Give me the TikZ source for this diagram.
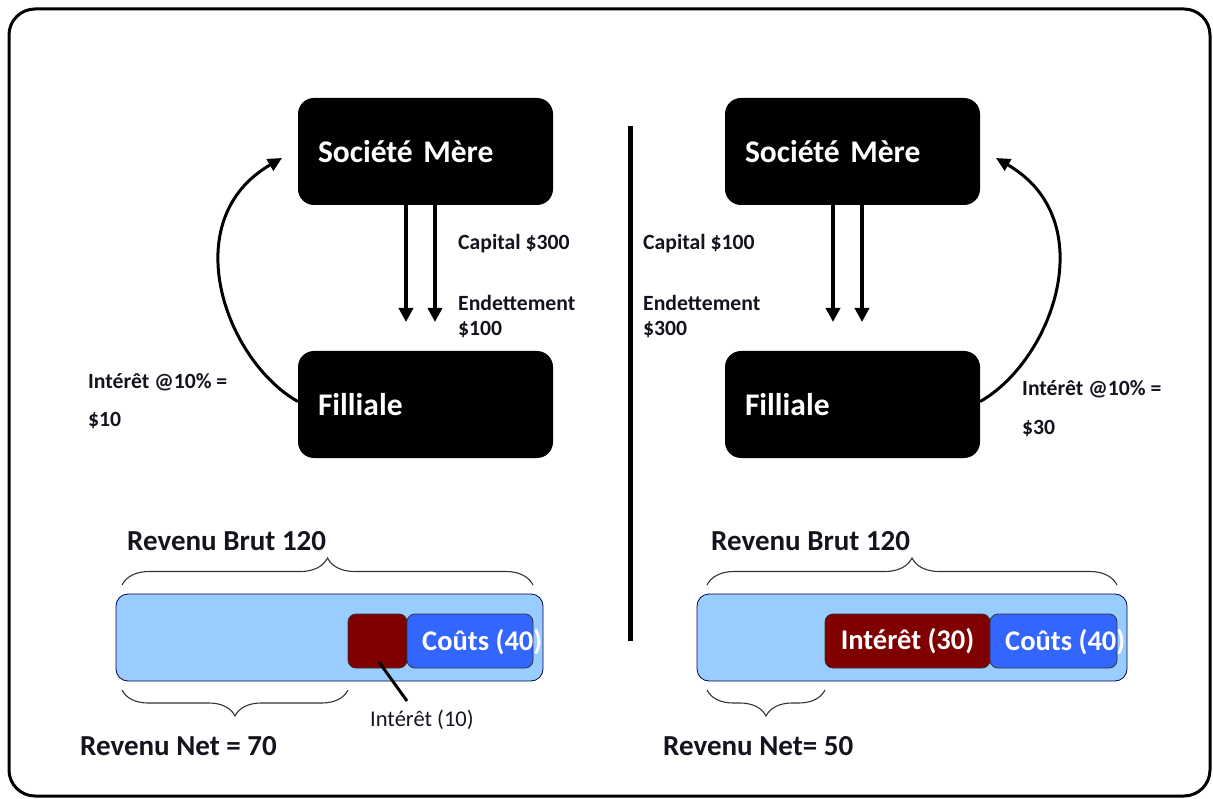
\documentclass[tikz,border=0pt]{standalone}
\usepackage{fontspec}
\setmainfont{Carlito}
\usetikzlibrary{arrows.meta,decorations.pathreplacing,calc}
\definecolor{lightbar}{RGB}{153,204,255}
\definecolor{costblue}{RGB}{51,102,255}
\definecolor{intred}{RGB}{128,0,0}
\definecolor{txt}{RGB}{20,20,30}
\tikzset{
  blk/.style={fill=black, rounded corners=16pt, minimum width=255pt, minimum height=107pt,
    text width=215pt, align=left, inner xsep=20pt, text=white, font=\bfseries\fontsize{31.5}{36}\selectfont},
  lbl/.style={anchor=west, inner sep=0pt, text=txt, font=\bfseries\fontsize{21.7}{25}\selectfont},
  big/.style={anchor=west, inner sep=0pt, text=txt, font=\bfseries\fontsize{29}{33}\selectfont},
  downarr/.style={line width=3.5pt, -{Triangle[width=14pt,length=14pt]}},
  curvearr/.style={line width=3pt, -{Triangle[width=13pt,length=14pt]}},
  bar/.style={fill=lightbar, draw=black!70!blue, line width=0.8pt, rounded corners=12pt, minimum width=#1, minimum height=87pt, inner sep=0pt},
  seg/.style={draw=black!80, line width=0.8pt, rounded corners=8pt, minimum height=54pt, inner sep=0pt},
  brc/.style={draw=black!80, line width=1.1pt, decorate, decoration={brace, amplitude=#1}},
  intxt/.style={text=white, font=\bfseries\fontsize{28.5}{32}\selectfont, inner sep=0pt}
}
\begin{document}
\begin{tikzpicture}[x=1pt,y=-1pt]
\useasboundingbox (0,0) rectangle (1213,799);
\draw[line width=3pt, rounded corners=26pt] (9,9) rectangle (1210,796);

% left side
\node[blk] (sm1) at (425.5,151.5) {Société Mère};
\node[blk] (fi1) at (425.5,404.5) {Filliale};
\coordinate (a1) at (406,322);
\coordinate (a2) at (435,322);
\draw[downarr] (sm1.south -| a1) -- (a1);
\draw[downarr] (sm1.south -| a2) -- (a2);
\node[lbl] (cap1) at (458,244) {Capital \$300};
\node[lbl] (end1) at (458,303) {Endettement};
\node[lbl] (amt1) at (458,330) {\$100};
\coordinate (t1) at (282,158);
\draw[curvearr] ($(fi1.west)+(0,-3)$) .. controls (225,360) and (175,220) .. (t1);
\node[lbl] (int1a) at (88,382) {Intérêt @10\% =};
\node[lbl] (int1b) at (88,421) {\$10};

% divider
\coordinate (d1) at (630,126);
\coordinate (d2) at (630,641);
\draw[line width=5pt] (d1) -- (d2);

% right side
\node[blk] (sm2) at (852.5,151.5) {Société Mère};
\node[blk] (fi2) at (852.5,404.5) {Filliale};
\coordinate (b1) at (833,322);
\coordinate (b2) at (862,322);
\draw[downarr] (sm2.south -| b1) -- (b1);
\draw[downarr] (sm2.south -| b2) -- (b2);
\node[lbl] (cap2) at (643,244) {Capital \$100};
\node[lbl] (end2) at (643,303) {Endettement};
\node[lbl] (amt2) at (643,330) {\$300};
\coordinate (t2) at (996,158);
\draw[curvearr] ($(fi2.east)+(0,-3)$) .. controls (1053,360) and (1103,220) .. (t2);
\node[lbl] (int2a) at (1022,389) {Intérêt @10\% =};
\node[lbl] (int2b) at (1022,429) {\$30};

% bottom left
\node[big] (rb1) at (127,541) {Revenu Brut 120};
\draw[brc=27pt] (122,585) -- (533,585);
\node[bar=427pt] (bar1) at (329.5,637.5) {};
\node[seg, fill=intred, minimum width=59pt] (ib1) at (377.5,641) {};
\node[seg, fill=costblue, minimum width=126pt] (cb1) at (470,641) {};
\node[intxt, anchor=west] (ct1) at (422,642) {Coûts (40)};
\draw[brc=26pt] (348,690) -- (122,690);
\node[big] (rn1) at (80,746) {Revenu Net = 70};
\node[anchor=west, inner sep=0pt, text=txt, font=\fontsize{22.5}{26}\selectfont] (il1) at (370,720) {Intérêt (10)};
\coordinate (lp1) at (407,701);
\draw[line width=3pt] ($(ib1.center)+(1.5,21)$) -- (lp1);

% bottom right
\node[big] (rb2) at (711,541) {Revenu Brut 120};
\draw[brc=27pt] (707,585) -- (1117,585);
\node[bar=430pt] (bar2) at (912,637.5) {};
\node[seg, fill=intred, minimum width=165pt, intxt] (ib2) at (907.5,641) {Intérêt (30)};
\node[seg, fill=costblue, minimum width=127pt] (cb2) at (1053.5,641) {};
\node[intxt, anchor=west] (ct2) at (1005,642) {Coûts (40)};
\draw[brc=26pt] (825,690) -- (707,690);
\node[big] (rn2) at (663,746) {Revenu Net= 50};
\end{tikzpicture}
\end{document}
